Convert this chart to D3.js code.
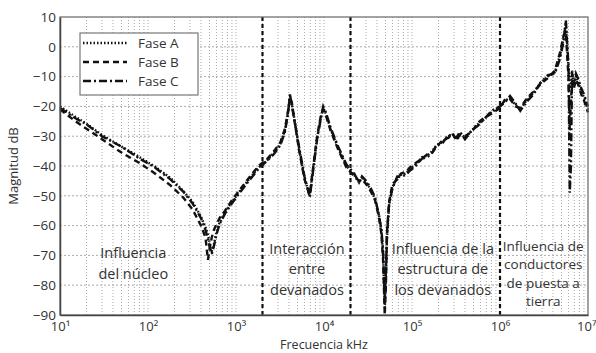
<!DOCTYPE html>
<html>
<head>
<meta charset="utf-8">
<script src="https://cdn.jsdelivr.net/npm/d3@7"></script>
<style>
  body { margin: 0; background: #fff; }
  text { font-family: "Open Sans", sans-serif; fill: #333; }
</style>
</head>
<body>
<div id="container"></div>
<script>
/* CONSTANTS AND GLOBALS */
const width = 596,
  height = 353,
  margin = { top: 17, bottom: 38, left: 60, right: 6 };

// frequencies in kHz, shared by the three phases
const freq = [10, 15, 20, 30, 50, 80, 120, 180, 250, 320, 400, 450, 480, 500, 530, 560, 600, 650, 750, 900,
  1100, 1400, 1800, 2200, 2700, 3200, 3600, 3900, 4100, 4300, 4600, 5200, 6000, 6900, 7600, 8400, 9300, 9800,
  10500, 12000, 14500, 18000, 22000, 25000, 27000, 29000, 31000, 34000, 38000, 42000, 45000, 47000, 49000,
  50500, 52000, 55000, 60000, 68000, 75000, 85000, 95000, 110000, 130000, 150000, 170000, 190000, 220000,
  260000, 290000, 320000, 350000, 400000, 480000, 560000, 650000, 800000, 1000000, 1150000, 1300000,
  1500000, 1700000, 2000000, 2400000, 2900000, 3500000, 4200000, 4800000, 5300000, 5600000, 5800000,
  6000000, 6200000, 6400000, 6600000, 6900000, 7300000, 7800000, 8400000, 9000000, 10000000];

const faseA = [-20, -23.5, -25.8, -29.6, -33.5, -37, -40.2, -44, -48.3, -52, -57, -60.5, -63, -65.5, -68.5, -66.5, -62, -59, -55.5, -52,
  -48.5, -44.5, -40.5, -38.5, -35.5, -32.5, -28, -22, -16.5, -19, -24, -34, -44, -50, -40, -30, -23, -20.5,
  -22.5, -28, -34, -40, -43, -45.5, -44, -45, -46, -48, -51, -56, -62, -70, -88,
  -78, -64, -53, -47, -44, -43, -42.5, -41, -39.5, -37, -36.5, -35, -33, -32,
  -30, -29.5, -31, -29, -30.5, -28, -26, -24.5, -22, -20, -18, -17,
  -19.5, -21, -18, -15.5, -12, -10, -8.5, -3, 3, 8, 0,
  -7, -10, -14, -9, -12, -10, -12, -15, -17, -21];

const faseB = [-21, -25, -27.5, -31, -35.5, -39, -42.5, -46.5, -50.5, -54.5, -60, -64, -71.5, -68, -64, -61.5, -59.5, -57.5, -55, -51.5,
  -48, -44, -40, -38, -35, -32, -27.5, -21.5, -17, -18.5, -24.5, -34.5, -44.5, -49.5, -39.5, -29.5, -22.5, -21,
  -23, -28.5, -34.5, -40.5, -43.5, -45, -44.5, -45.5, -46.5, -48.5, -51.5, -57, -63, -72, -90,
  -80, -62, -52, -46, -44.5, -42.5, -42, -40.5, -39, -37.5, -36, -35.5, -33.5, -31.5,
  -30.5, -29, -31.5, -29.5, -30, -28.5, -25.5, -24, -22.5, -20.5, -17.5, -17.5,
  -20, -20.5, -17.5, -15, -12.5, -10.5, -8, -2, 4, 5, -3,
  -10, -28, -18, -12, -14, -11, -13, -16, -18, -22];

const faseC = [-20.5, -24, -26, -30, -33.5, -37.5, -40.5, -44.5, -48.5, -52.5, -57.5, -61.5, -64.5, -67, -69.5, -67, -63, -59.5, -56, -52.5,
  -49, -45, -41, -38.5, -36, -33, -28.5, -22.5, -16, -19.5, -24.5, -33.5, -43.5, -50.5, -40.5, -30.5, -23.5, -20,
  -22, -27.5, -33.5, -39.5, -42.5, -45.5, -43.5, -44.5, -45.5, -47.5, -50.5, -56.5, -61.5, -69, -86,
  -75, -63, -52.5, -47.5, -43.5, -43.5, -43, -41.5, -40, -37.5, -37, -35.5, -33, -32.5,
  -29.5, -30, -30.5, -28.5, -31, -28, -26.5, -24.5, -21.5, -20, -18.5, -16.5,
  -19, -21.5, -18.5, -16, -12, -9.5, -9, -4, 2, 9, 1,
  -6, -49, -40, -8, -13, -9, -11, -14, -16, -20];

const series = [
  { name: "Fase A", values: faseA, dash: "1.5,2" },
  { name: "Fase B", values: faseB, dash: "6,4" },
  { name: "Fase C", values: faseC, dash: "8,3,2,3" }
];

// region boundaries (kHz) and region labels
const boundaries = [2000, 20000, 1000000];
const regions = [
  { f: 68, y: -71, lines: ["Influencia", "del núcleo"] },
  { f: 6400, y: -69.5, lines: ["Interacción", "entre", "devanados"] },
  { f: 224000, y: -69.5, lines: ["Influencia de la", "estructura de", "los devanados"] },
  { f: 3100000, y: -68.5, lines: ["Influencia de", "conductores", "de puesta a", "tierra"] }
];

const yTicks = [10, 0, -10, -20, -30, -40, -50, -60, -70, -80, -90];
const xDecades = [1, 2, 3, 4, 5, 6, 7];
const supers = { 1: "\u00b9", 2: "\u00b2", 3: "\u00b3", 4: "\u2074", 5: "\u2075", 6: "\u2076", 7: "\u2077" };

/* SCALES */
const xScale = d3.scaleLog()
  .domain([10, 1e7])
  .range([margin.left, width - margin.right - 2]);

const yScale = d3.scaleLinear()
  .domain([-90, 10])
  .range([height - margin.bottom, margin.top]);

const svg = d3.select("#container")
  .append("svg")
  .attr("width", width)
  .attr("height", height);

const x0 = xScale.range()[0], x1 = xScale.range()[1];
const y0 = yScale.range()[1], y1 = yScale.range()[0];

// + GRID
const minorX = [];
for (let e = 1; e < 7; e++) {
  for (let m = 1; m <= 9; m++) {
    if (!(e === 1 && m === 1)) minorX.push(m * Math.pow(10, e));
  }
}
svg.append("g")
  .selectAll("line")
  .data(minorX)
  .join("line")
  .attr("x1", d => xScale(d)).attr("x2", d => xScale(d))
  .attr("y1", y0).attr("y2", y1)
  .attr("stroke", "#aaa")
  .attr("stroke-width", 1)
  .attr("stroke-dasharray", "1,2");

svg.append("g")
  .selectAll("line")
  .data(yTicks.slice(1, -1))
  .join("line")
  .attr("x1", x0).attr("x2", x1)
  .attr("y1", d => yScale(d)).attr("y2", d => yScale(d))
  .attr("stroke", "#aaa")
  .attr("stroke-width", 1)
  .attr("stroke-dasharray", "2,2");

// + REGION BOUNDARIES
svg.append("g")
  .selectAll("line")
  .data(boundaries)
  .join("line")
  .attr("x1", d => xScale(d)).attr("x2", d => xScale(d))
  .attr("y1", y0).attr("y2", y1)
  .attr("stroke", "#111")
  .attr("stroke-width", 2.2)
  .attr("stroke-dasharray", "4,3");

// + REGION LABELS
regions.forEach(r => {
  const four = r.lines.length > 3;
  const t = svg.append("text")
    .attr("x", xScale(r.f))
    .attr("y", yScale(r.y))
    .attr("text-anchor", "middle")
    .style("font-size", four ? "13.5px" : "14.5px");
  r.lines.forEach((l, i) => {
    t.append("tspan")
      .attr("x", xScale(r.f))
      .attr("dy", i === 0 ? 0 : (four ? 18.5 : 20.5))
      .text(l);
  });
});

// + CURVES
const lineGen = d3.line()
  .x((d, i) => xScale(freq[i]))
  .y(d => yScale(Math.max(-90, Math.min(10, d))));

svg.append("g")
  .selectAll("path")
  .data(series)
  .join("path")
  .attr("fill", "none")
  .attr("stroke", "#111")
  .attr("stroke-width", 2.4)
  .attr("stroke-dasharray", d => d.dash)
  .attr("d", d => lineGen(d.values));

// + FRAME
svg.append("rect")
  .attr("x", x0).attr("y", y0)
  .attr("width", x1 - x0).attr("height", y1 - y0)
  .attr("fill", "none")
  .attr("stroke", "#666")
  .attr("stroke-width", 1.2);

// + AXES
const yAxis = d3.axisLeft(yScale)
  .tickValues(yTicks)
  .tickSize(0)
  .tickPadding(4);
svg.append("g")
  .attr("transform", `translate(${x0}, 0)`)
  .call(yAxis)
  .call(g => g.select(".domain").attr("stroke", "#444").attr("stroke-width", 1.5))
  .selectAll("text")
  .style("font-size", "13.5px")
  .style("font-family", "'Open Sans', sans-serif")
  .attr("fill", "#333");

const xAxis = d3.axisBottom(xScale)
  .tickValues(xDecades.map(e => Math.pow(10, e)))
  .tickFormat(d => "10" + supers[Math.round(Math.log10(d))])
  .tickSize(0)
  .tickPadding(7);
svg.append("g")
  .attr("transform", `translate(0, ${y1})`)
  .call(xAxis)
  .call(g => g.select(".domain").attr("stroke", "#444").attr("stroke-width", 1.5))
  .selectAll("text")
  .style("font-size", "13px")
  .style("font-family", "'Open Sans', sans-serif")
  .attr("fill", "#333")
  // the last label sits against the right edge
  .attr("text-anchor", d => d === 1e7 ? "end" : "middle")
  .attr("x", d => d === 1e7 ? width - xScale(d) : 0);

// axis titles
svg.append("text")
  .attr("x", (x0 + x1) / 2)
  .attr("y", 349)
  .attr("text-anchor", "middle")
  .style("font-size", "12.5px")
  .text("Frecuencia kHz");

svg.append("text")
  .attr("transform", `translate(18, ${(y0 + y1) / 2}) rotate(-90)`)
  .attr("text-anchor", "middle")
  .style("font-size", "13px")
  .text("Magnitud dB");

// + LEGEND
const legend = svg.append("g").attr("transform", "translate(80, 33)");
legend.append("rect")
  .attr("width", 118).attr("height", 62)
  .attr("fill", "#fff")
  .attr("stroke", "#777")
  .attr("stroke-width", 1.2);
series.forEach((s, i) => {
  const ly = 10 + i * 19;
  legend.append("line")
    .attr("x1", 3).attr("x2", 47)
    .attr("y1", ly).attr("y2", ly)
    .attr("stroke", "#111")
    .attr("stroke-width", 2.4)
    .attr("stroke-dasharray", s.dash);
  legend.append("text")
    .attr("x", 58).attr("y", ly + 4.5)
    .style("font-size", "13.5px")
    .text(s.name);
});
</script>
</body>
</html>
